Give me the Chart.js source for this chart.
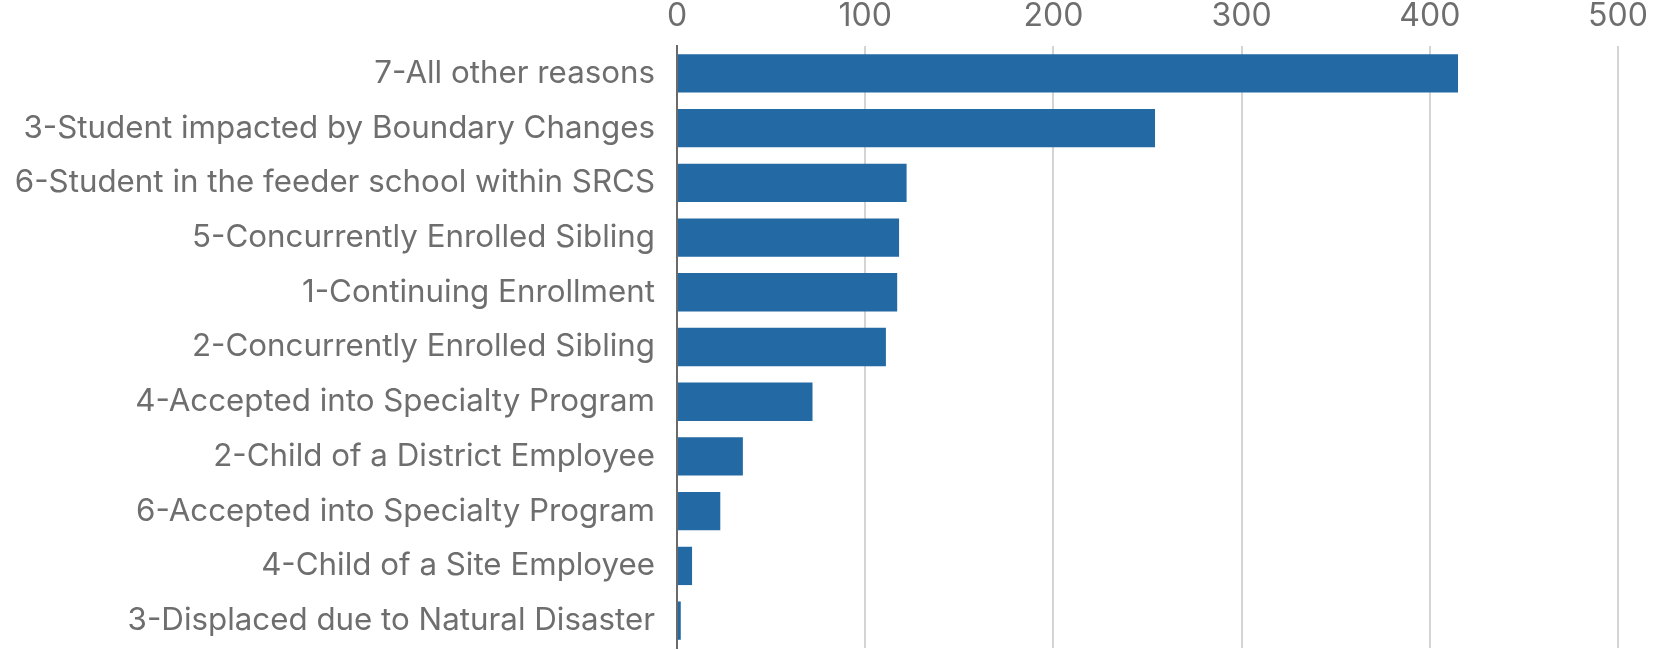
<!DOCTYPE html>
<html>
<head>
<meta charset="utf-8">
<script src="https://cdn.jsdelivr.net/npm/chart.js@4.4.0/dist/chart.umd.min.js"></script>
<style>
html,body{margin:0;padding:0;background:#fff;}
#wrap{width:1658px;height:650px;position:relative;}
</style>
</head>
<body>
<div id="wrap"><canvas id="c" width="1658" height="650"></canvas></div>
<script>
const categories = [
  "7-All other reasons",
  "3-Student impacted by Boundary Changes",
  "6-Student in the feeder school within SRCS",
  "5-Concurrently Enrolled Sibling",
  "1-Continuing Enrollment",
  "2-Concurrently Enrolled Sibling",
  "4-Accepted into Specialty Program",
  "2-Child of a District Employee",
  "6-Accepted into Specialty Program",
  "4-Child of a Site Employee",
  "3-Displaced due to Natural Disaster"
];
const values = [415, 254, 122, 118, 117, 111, 72, 35, 23, 8, 2];
const xTicks = [0, 100, 200, 300, 400, 500];

new Chart(document.getElementById('c'), {
  type: 'bar',
  data: {
    labels: categories,
    datasets: [{
      data: values,
      backgroundColor: '#2369a3',
      borderWidth: 0,
      barPercentage: 0.7,
      categoryPercentage: 1.0
    }]
  },
  options: {
    indexAxis: 'y',
    responsive: false,
    animation: false,
    devicePixelRatio: 1,
    layout: { padding: { left: 0, right: 40, top: 0, bottom: 2 } },
    plugins: { legend: { display: false }, tooltip: { enabled: false } },
    scales: {
      x: {
        position: 'top',
        min: xTicks[0],
        max: xTicks[xTicks.length - 1],
        afterBuildTicks: (s) => { s.ticks = xTicks.map(v => ({ value: v })); },
        afterFit: (s) => { s.height = 46; },
        border: { display: false },
        grid: { color: '#d4d4d4', lineWidth: 2, drawTicks: false },
        ticks: {
          padding: 10,
          color: '#6e6e6e',
          font: { family: 'Inter', size: 32, weight: 400 }
        }
      },
      y: {
        afterFit: (s) => { s.width = 677; s.paddingTop = 0; s.paddingBottom = 0; },
        border: { display: true, color: '#6a6a6a', width: 2 },
        grid: { display: false, drawTicks: false },
        ticks: {
          padding: 22,
          color: '#6e6e6e',
          font: { family: 'Inter', size: 31.3, weight: 400 }
        }
      }
    }
  }
});
</script>
</body>
</html>
